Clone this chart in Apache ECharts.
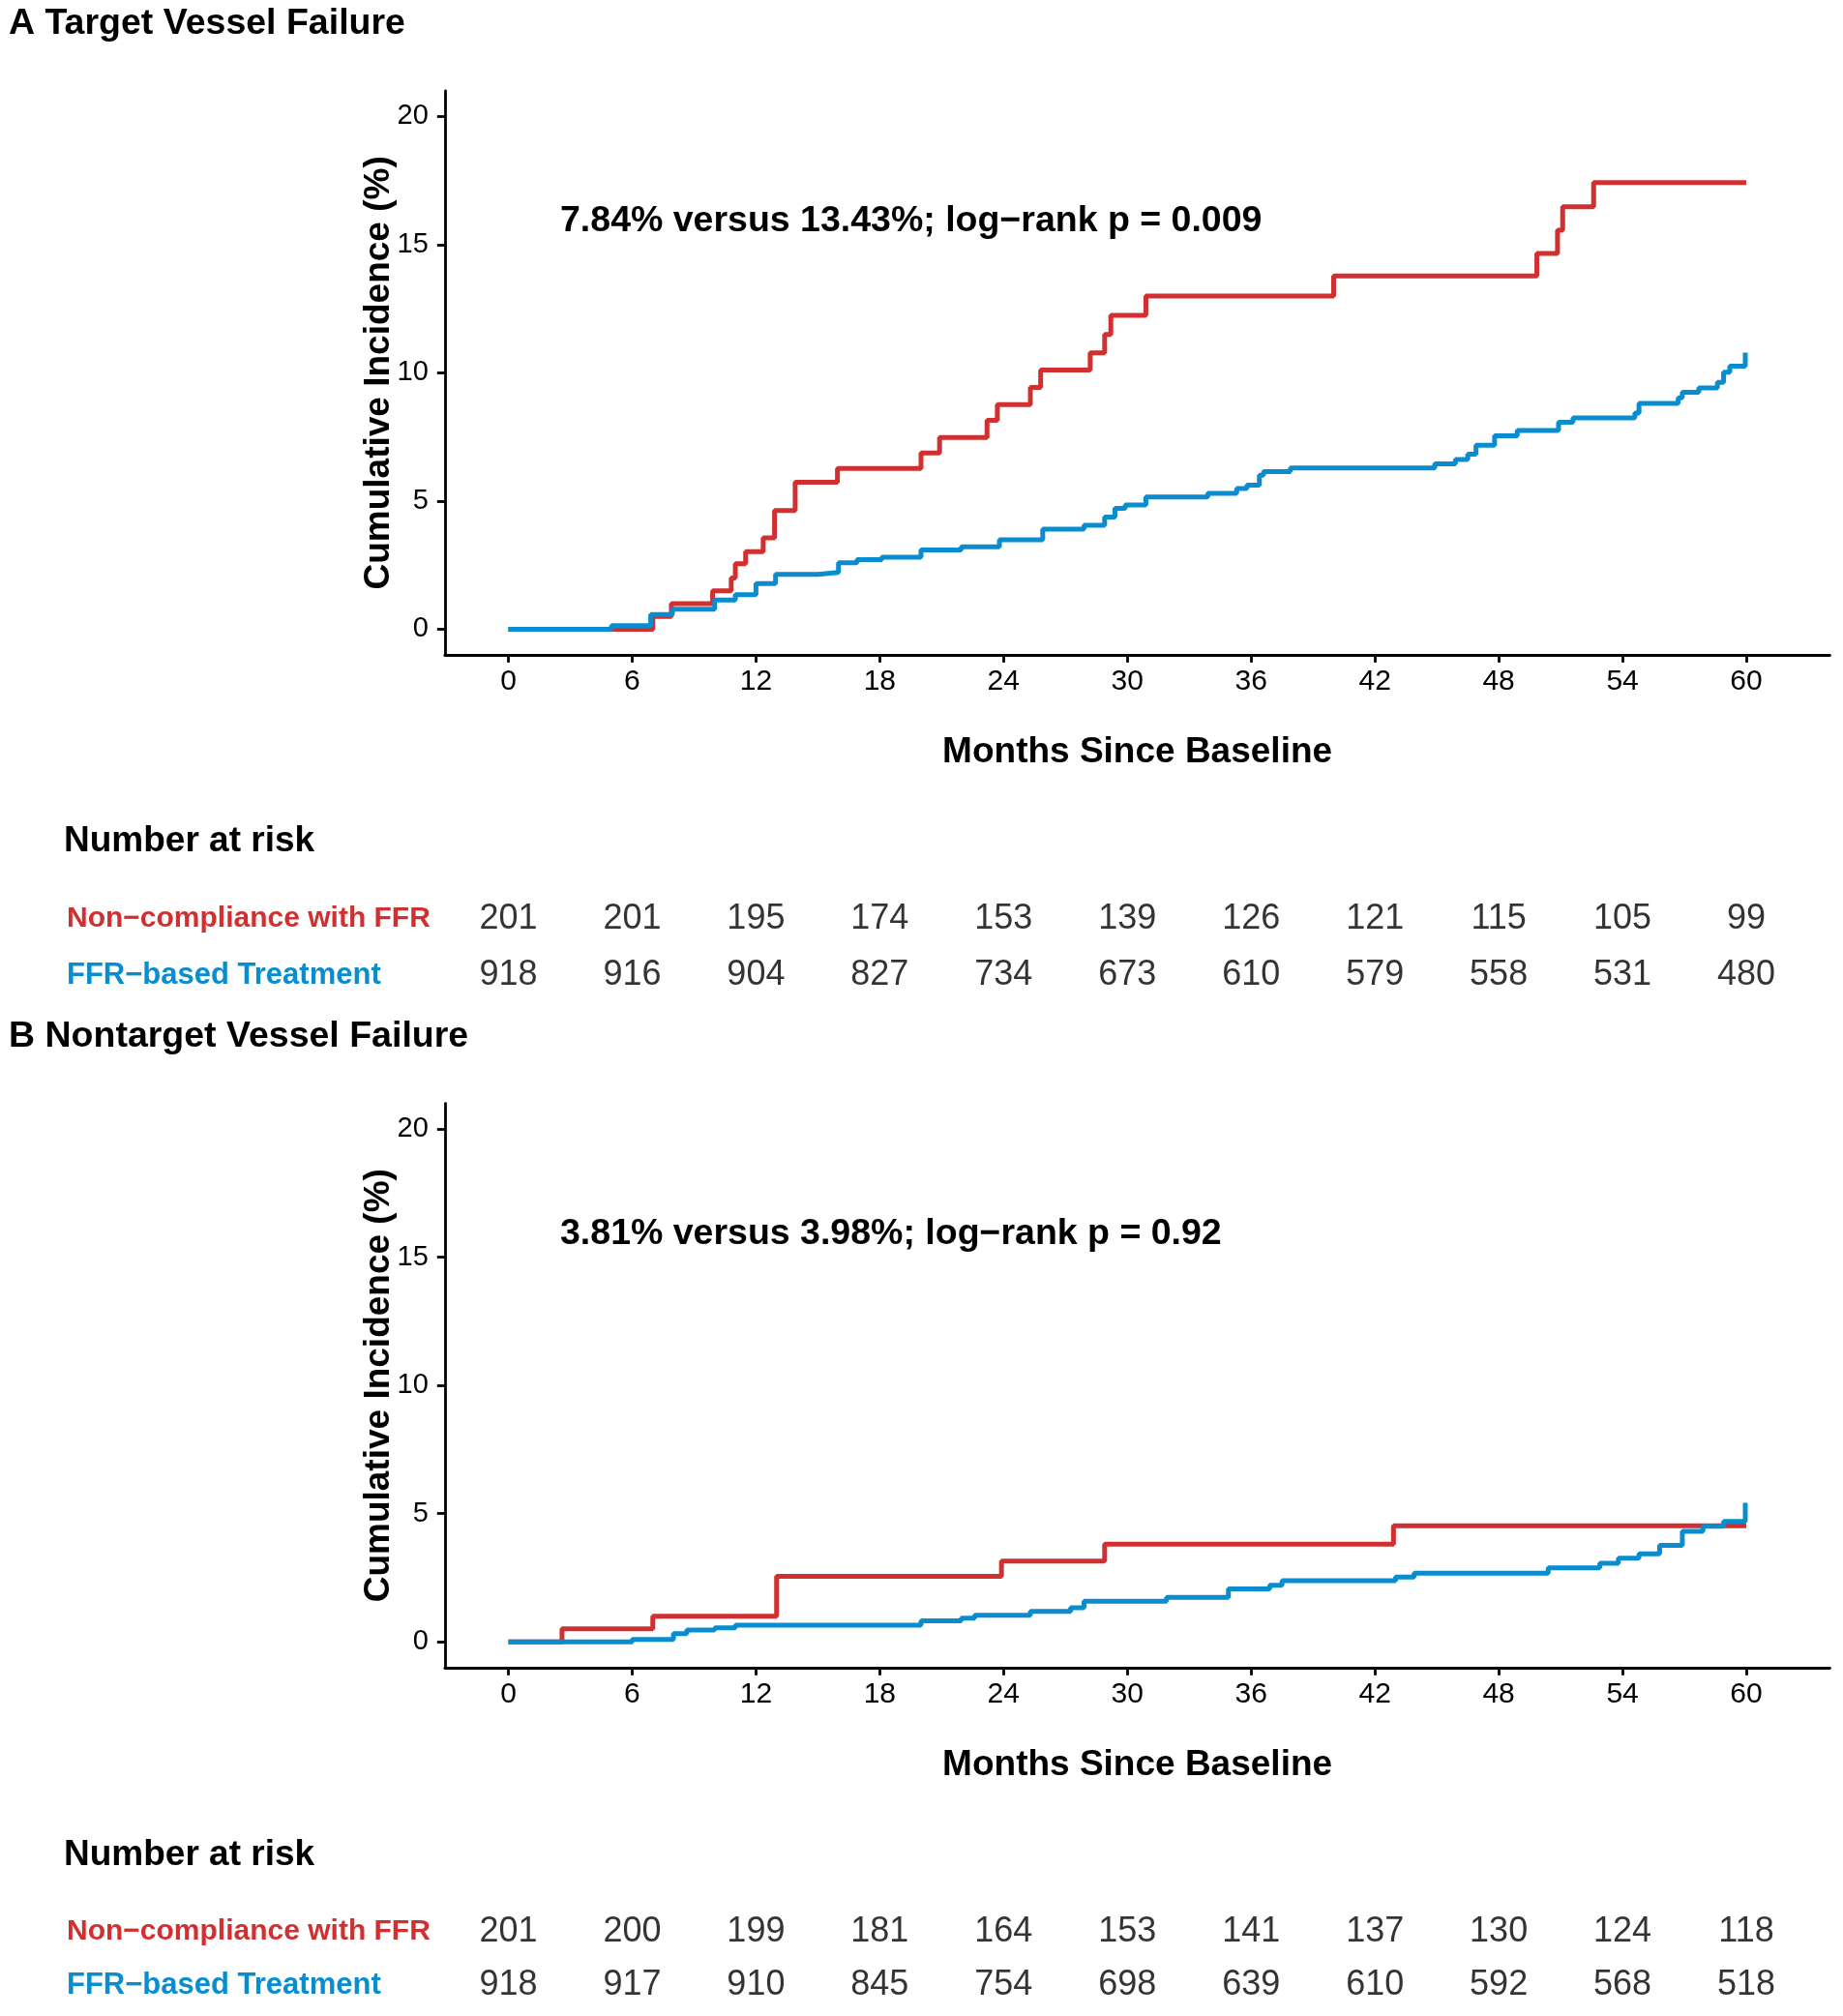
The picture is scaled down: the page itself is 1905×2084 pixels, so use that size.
<!DOCTYPE html>
<html><head><meta charset="utf-8">
<script src="https://cdn.jsdelivr.net/npm/echarts@6/dist/echarts.min.js"></script>
<style>html,body{margin:0;padding:0;background:#fff}#c{width:1905px;height:2084px}</style>
</head><body><div id="c"></div>
<script>
// ---------- data ----------
const monthTicks = [0, 6, 12, 18, 24, 30, 36, 42, 48, 54, 60];
const incidenceTicks = [0, 5, 10, 15, 20];
const groups = ['Non\u2212compliance with FFR', 'FFR\u2212based Treatment'];

// Panel A: Target Vessel Failure  [month, cumulative incidence %]
const tvfNonCompliance = [[0,0],[7.0,0.5],[7.9,1.0],[9.9,1.5],[10.8,2.0],[11.0,2.55],[11.5,3.02],[12.35,3.56],[12.9,4.63],[13.9,5.73],[15.95,6.27],[20.0,6.87],[20.9,7.48],[23.2,8.15],[23.7,8.76],[25.3,9.43],[25.8,10.11],[28.2,10.78],[28.9,11.5],[29.2,12.24],[30.9,13.0],[40.0,13.78],[49.85,14.66],[50.85,15.56],[51.1,16.48],[52.6,17.42],[60,17.42]];
const tvfFFR = [[0,0],[5.0,0.14],[6.9,0.57],[7.95,0.78],[10.0,1.14],[11.0,1.35],[12.0,1.78],[12.95,2.14],[15.0,2.21],[16.0,2.59],[16.9,2.71],[18.1,2.81],[20.0,3.09],[21.95,3.21],[23.8,3.49],[25.9,3.9],[27.9,4.05],[28.9,4.37],[29.4,4.71],[29.9,4.85],[30.9,5.16],[33.9,5.3],[35.3,5.49],[35.8,5.62],[36.4,6.01],[36.6,6.15],[37.9,6.29],[44.9,6.45],[45.9,6.62],[46.5,6.83],[46.9,7.18],[47.8,7.54],[48.9,7.75],[50.9,8.07],[51.6,8.24],[54.6,8.43],[54.8,8.81],[56.7,9.02],[56.9,9.24],[57.7,9.41],[58.6,9.63],[58.9,10.02],[59.2,10.26],[59.95,10.79]];

// Panel B: Nontarget Vessel Failure
const ntvfNonCompliance = [[0,0],[2.6,0.51],[7.0,1.0],[13.0,2.56],[23.9,3.15],[28.9,3.81],[42.9,4.53],[60,4.53]];
const ntvfFFR = [[0,0],[6.0,0.1],[8.0,0.32],[8.65,0.46],[10.0,0.55],[11.0,0.65],[20.0,0.82],[21.95,0.93],[22.6,1.04],[25.3,1.19],[27.25,1.33],[27.9,1.59],[31.9,1.74],[34.9,2.07],[36.9,2.21],[37.5,2.39],[43.0,2.53],[43.9,2.68],[50.4,2.89],[52.9,3.07],[53.8,3.26],[54.8,3.43],[55.8,3.76],[56.9,4.31],[57.9,4.51],[58.9,4.70],[59.95,5.42]];

// Number at risk
const riskANon = [201, 201, 195, 174, 153, 139, 126, 121, 115, 105, 99];
const riskAFFR = [918, 916, 904, 827, 734, 673, 610, 579, 558, 531, 480];
const riskBNon = [201, 200, 199, 181, 164, 153, 141, 137, 130, 124, 118];
const riskBFFR = [918, 917, 910, 845, 754, 698, 639, 610, 592, 568, 518];

const titleA = 'A Target Vessel Failure';
const titleB = 'B Nontarget Vessel Failure';
const noteA = '7.84% versus 13.43%; log\u2212rank p = 0.009';
const noteB = '3.81% versus 3.98%; log\u2212rank p = 0.92';

// ---------- styling ----------
const RED = '#D0302F';
const BLUE = '#0A8DCF';
const FONT = '"Liberation Sans", Arial, Helvetica, sans-serif';
const XMIN = -3.08, XMAX = 64.05;
const GL = 459.8, GW = 1431.6;

const chart = echarts.init(document.getElementById('c'), null, {renderer: 'canvas'});

function plotX(gi, show) {
  return {
    gridIndex: gi, type: 'value', min: XMIN, max: XMAX, show: show,
    name: 'Months Since Baseline', nameLocation: 'middle', nameGap: 82, nameMoveOverlap: false,
    nameTextStyle: {fontFamily: FONT, fontWeight: 'bold', fontSize: 37, color: '#000'},
    axisLine: {show: true, onZero: false, lineStyle: {color: '#000', width: 2.8}},
    axisTick: {show: true, length: 8, lineStyle: {color: '#000', width: 2.8}, customValues: monthTicks},
    axisLabel: {show: true, margin: 13, fontFamily: FONT, fontSize: 30, color: '#000', customValues: monthTicks},
    splitLine: {show: false}
  };
}
function tableX(gi) {
  return {gridIndex: gi, type: 'value', min: XMIN, max: XMAX, show: false, splitLine: {show: false}};
}
function plotY(gi) {
  return {
    gridIndex: gi, type: 'value', min: -1, max: 21,
    name: 'Cumulative Incidence (%)', nameLocation: 'middle', nameGap: 50, nameMoveOverlap: false,
    nameTextStyle: {fontFamily: FONT, fontWeight: 'bold', fontSize: 37, color: '#000'},
    axisLine: {show: true, onZero: false, lineStyle: {color: '#000', width: 2.8}},
    axisTick: {show: true, length: 8, lineStyle: {color: '#000', width: 2.8}, customValues: incidenceTicks},
    axisLabel: {show: true, margin: 17, fontFamily: FONT, fontSize: 29, color: '#000', customValues: incidenceTicks},
    splitLine: {show: false}
  };
}
function tableY(gi) {
  return {
    gridIndex: gi, type: 'category', data: groups, inverse: true,
    axisLine: {show: false}, axisTick: {show: false}, splitLine: {show: false},
    axisLabel: {
      show: true, align: 'left', margin: GL - 69,
      formatter: function (v, i) { return i === 0 ? '{r|' + v + '}' : '{b|' + v + '}'; },
      rich: {
        r: {color: RED, fontFamily: FONT, fontWeight: 'bold', fontSize: 30},
        b: {color: BLUE, fontFamily: FONT, fontWeight: 'bold', fontSize: 31}
      }
    }
  };
}
function kmSeries(xi, data, color, name) {
  return {
    type: 'line', name: name, xAxisIndex: xi, yAxisIndex: xi, data: data, step: 'end',
    showSymbol: false, symbol: 'none', silent: true, animation: false,
    lineStyle: {color: color, width: 5}, z: color === BLUE ? 3 : 2
  };
}
function riskSeries(xi, counts, row) {
  return {
    type: 'scatter', xAxisIndex: xi, yAxisIndex: xi, symbolSize: 1, animation: false, silent: true,
    itemStyle: {color: 'rgba(0,0,0,0)'},
    data: monthTicks.map(function (m, i) { return [m, row, counts[i]]; }),
    label: {show: true, position: 'inside', formatter: function (p) { return String(p.value[2]); },
      fontFamily: FONT, fontSize: 36, color: '#000'}
  };
}

function txt(x, y, text, size, bold) {
  return {type: 'text', x: x, y: y, silent: true,
    style: {text: text, fill: '#000', font: (bold ? 'bold ' : '') + size + 'px ' + FONT,
      textAlign: 'left', textVerticalAlign: 'middle', align: 'left', verticalAlign: 'middle'}};
}

const option = {
  backgroundColor: '#fff',
  animation: false,
  grid: [
    {left: GL, top: 93.9, width: GW, height: 583},
    {left: GL, top: 920.4, width: GW, height: 117.2},
    {left: GL, top: 1140.6, width: GW, height: 583.2},
    {left: GL, top: 1968.7, width: GW, height: 111.8}
  ],
  xAxis: [plotX(0, true), tableX(1), plotX(2, true), tableX(3)],
  yAxis: [plotY(0), tableY(1), plotY(2), tableY(3)],
  series: [
    kmSeries(0, tvfNonCompliance, RED, groups[0]),
    kmSeries(0, tvfFFR, BLUE, groups[1]),
    riskSeries(1, riskANon, 0),
    riskSeries(1, riskAFFR, 1),
    kmSeries(2, ntvfNonCompliance, RED, groups[0]),
    kmSeries(2, ntvfFFR, BLUE, groups[1]),
    riskSeries(3, riskBNon, 0),
    riskSeries(3, riskBFFR, 1)
  ],
  graphic: [
    txt(9, 25, titleA, 37.5, true),
    txt(579, 229, noteA, 37.5, true),
    txt(66, 870, 'Number at risk', 37, true),
    txt(9, 1072, titleB, 37.5, true),
    txt(579, 1276, noteB, 37.5, true),
    txt(66, 1918, 'Number at risk', 37, true)
  ]
};
chart.setOption(option);
</script>
</body></html>
